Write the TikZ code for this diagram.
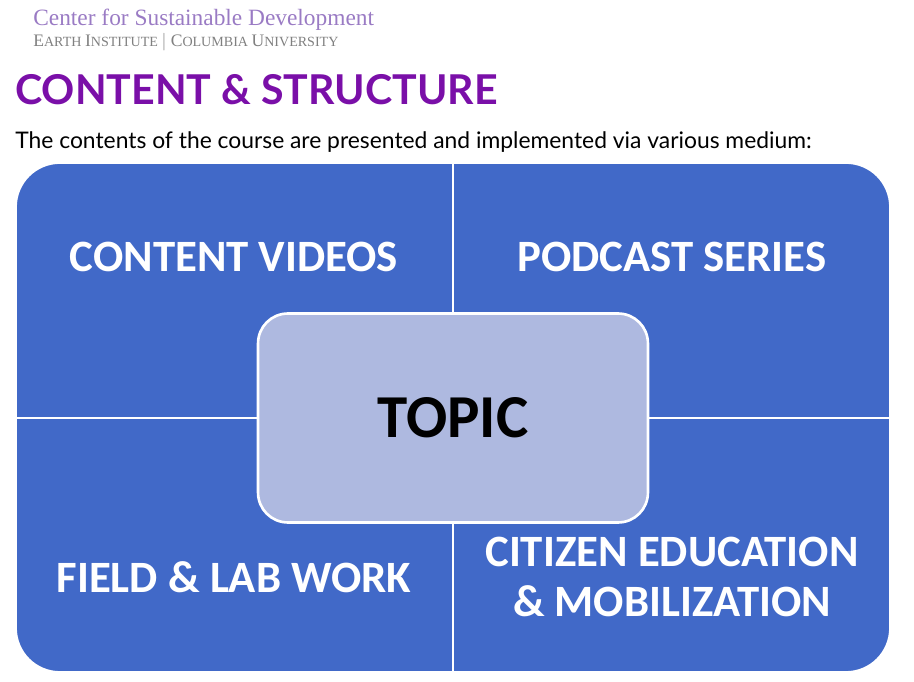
\documentclass[tikz,border=0pt]{standalone}
\usepackage{fontspec}
\setmainfont{Lato}
\newfontfamily\quadfont{Carlito}
\newfontfamily\seriffont{Liberation Serif}
\definecolor{quadblue}{HTML}{4169C8}
\definecolor{topicfill}{HTML}{AEB9E0}
\definecolor{titlepurple}{HTML}{7A0FA8}
\definecolor{headpurple}{HTML}{9A7BC4}
\tikzset{
  quad/.style={fill=quadblue, draw=white, line width=1pt},
  quadtext/.style={text=white, font=\quadfont\bfseries\fontsize{25.5}{28}\selectfont, align=center},
}
\begin{document}
\begin{tikzpicture}[x=0.02cm, y=-0.02cm]
	\useasboundingbox (0,0) rectangle (914,682);
	\node[anchor=base west, inner sep=0pt, text=headpurple, font=\seriffont\fontsize{13.3}{15}\selectfont] (center) at (33,26) {Center for Sustainable Development};
	\node[anchor=base west, inner sep=0pt, text=gray, font=\seriffont\fontsize{10}{12}\selectfont] (earth) at (33,47) {E\fontsize{8}{10}\selectfont ARTH \fontsize{10}{12}\selectfont I\fontsize{8}{10}\selectfont NSTITUTE \fontsize{10}{12}\selectfont $|$ C\fontsize{8}{10}\selectfont OLUMBIA \fontsize{10}{12}\selectfont U\fontsize{8}{10}\selectfont NIVERSITY};
	\node[anchor=base west, inner sep=0pt, text=titlepurple, font=\bfseries\fontsize{23.4}{26}\selectfont] (title) at (15,105) {CONTENT \& STRUCTURE};
	\node[anchor=base west, inner sep=0pt, font=\fontsize{13}{15}\selectfont] (intro) at (15,149) {The contents of the course are presented and implemented via various medium:};
	% quadrants
	\path[quad] (16,418) [rounded corners=25pt] -- (16,163) [sharp corners] -- (453,163) -- (453,418) -- cycle;
	\path[quad] (453,418) -- (453,163) [rounded corners=25pt] -- (890,163) [sharp corners] -- (890,418) -- cycle;
	\path[quad] (16,418) [rounded corners=25pt] -- (16,672) [sharp corners] -- (453,672) -- (453,418) -- cycle;
	\path[quad] (453,418) -- (453,672) [rounded corners=25pt] -- (890,672) [sharp corners] -- (890,418) -- cycle;
	\node[quadtext] (videos) at (234,257) {CONTENT VIDEOS};
	\node[quadtext] (podcast) at (672,257) {PODCAST SERIES};
	\node[quadtext] (field) at (234,577) {FIELD \& LAB WORK};
	\node[quadtext] (citizen) at (672,577) {CITIZEN EDUCATION\\\& MOBILIZATION};
	% centre
	\node[fill=topicfill, draw=white, line width=1.5pt, rounded corners=17pt, minimum width=7.8cm, minimum height=4.18cm, font=\quadfont\bfseries\fontsize{34.7}{38}\selectfont] (topic) at (453,418) {TOPIC};
\end{tikzpicture}
\end{document}
